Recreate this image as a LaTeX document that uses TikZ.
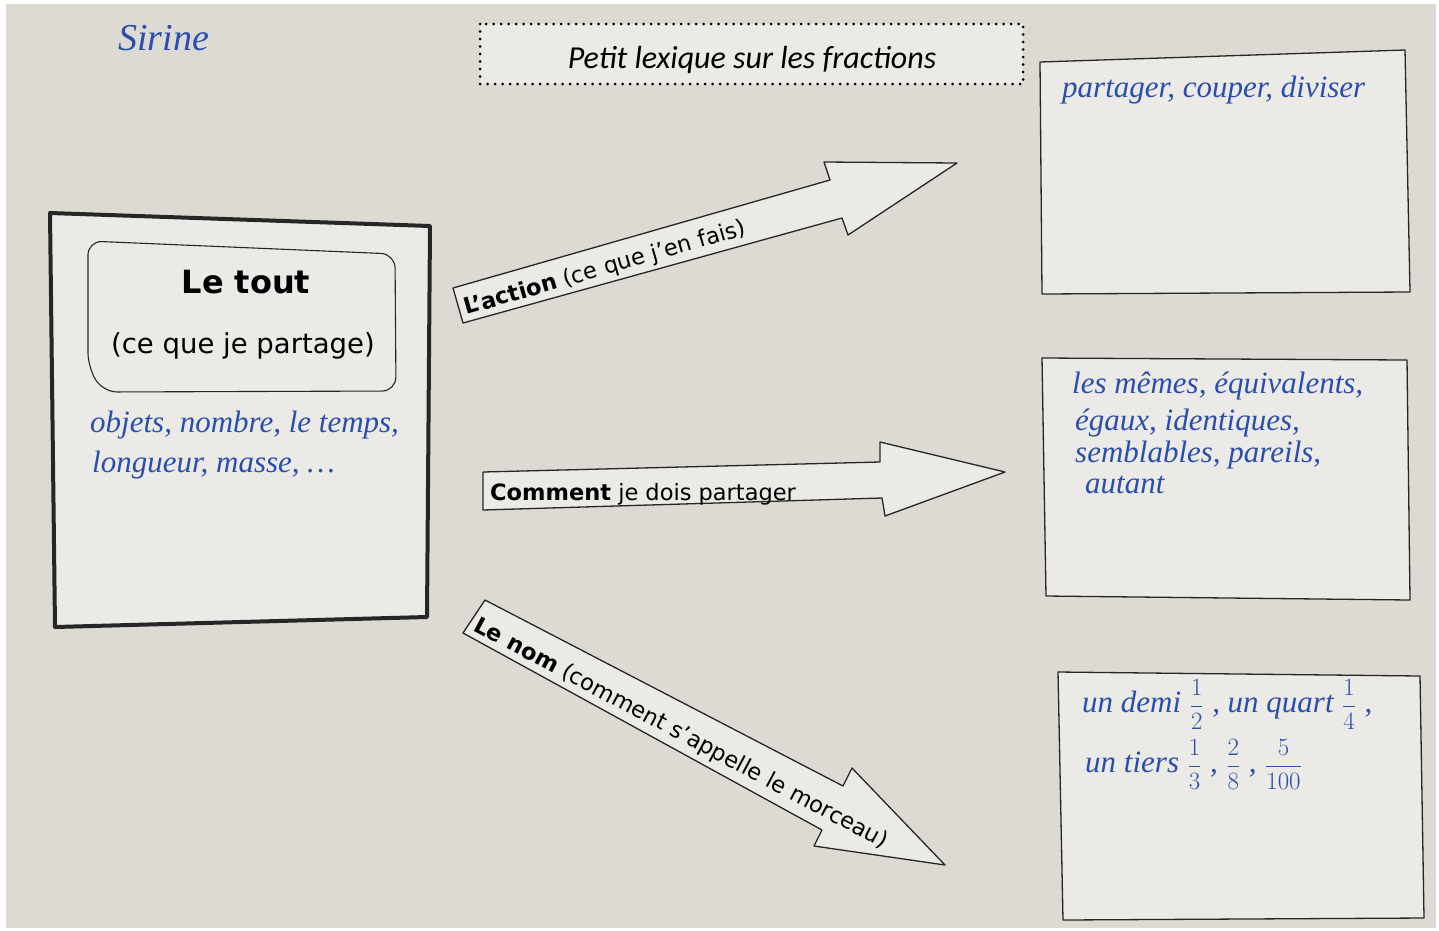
\documentclass[tikz,border=0pt]{standalone}
\usepackage{fontspec}
\setmainfont{DejaVu Sans}
\newfontfamily\titlefont{Carlito}
\newfontfamily\handfont{Liberation Serif}
\definecolor{paper}{RGB}{221,218,211}
\definecolor{cardfill}{RGB}{235,234,230}
\definecolor{ink}{RGB}{42,78,172}
\newcommand{\fr}[2]{$\displaystyle\frac{#1}{#2}$}
\begin{document}
\begin{tikzpicture}[x=1pt,y=-1pt,
  card/.style={draw=black!85,fill=cardfill,line width=1.3pt,line join=round},
  hand/.style={text=ink,font=\handfont\itshape\fontsize{31}{38}\selectfont,anchor=base west,inner sep=0pt},
  lbl/.style={font=\fontsize{22.5}{26}\selectfont,anchor=base west,inner sep=0pt}]
\fill[white] (0,0) rectangle (1439,930);
\fill[paper] (6,4) rectangle (1436,928);
\useasboundingbox (0,0) rectangle (1439,930);
\node[hand,font=\handfont\itshape\fontsize{38}{40}\selectfont] (eleve) at (118,50) {Sirine};
% titre
\draw[line width=3pt,dash pattern=on 0pt off 7.5pt,line cap=round,fill=cardfill] (480,24) rectangle (1023,84);
\node[font=\titlefont\itshape\fontsize{32}{36}\selectfont] (titre) at (752,60) {Petit lexique sur les fractions};
% le tout
\draw[card,line width=4pt] (50,213) -- (430,226) -- (427,617) -- (55,627) -- cycle;
\draw[card,line width=1.1pt,rounded corners=14pt] (88,367) -- (88,241) -- (395,254) -- (396,391) -- (103,392) -- cycle;
\node[font=\bfseries\fontsize{32}{36}\selectfont] (tout) at (246,282) {Le tout};
\node[font=\fontsize{27.5}{30}\selectfont] (partage) at (243,346) {(ce que je partage)};
\node[hand] (objets) at (90,432) {objets, nombre, le temps,};
\node[hand] (longueur) at (92,472) {longueur, masse, \dots};
% les trois fleches
\draw[card] (453,288) -- (830,180) -- (824,162) -- (957,163) -- (848,235) -- (842,218) -- (463,323) -- cycle;
\node[lbl,rotate=16] (action) at (466,315) {\textbf{L'action} (ce que j'en fais)};
\draw[card] (483,472) -- (880,462) -- (880,442) -- (1005,472) -- (885,516) -- (882,498) -- (483,510) -- cycle;
\node[lbl] (comment) at (490,500) {\textbf{Comment} je dois partager};
\draw[card] (485,600) -- (843,786) -- (852,768) -- (945,865) -- (814,846) -- (822,830) -- (463,633) -- cycle;
\node[lbl,rotate=-28] (nommer) at (472,630) {\textbf{Le nom} (comment s'appelle le morceau)};
% les reponses
\draw[card] (1040,62) -- (1405,50) -- (1410,292) -- (1042,294) -- cycle;
\draw[card] (1042,358) -- (1407,360) -- (1410,600) -- (1046,596) -- cycle;
\draw[card] (1058,672) -- (1420,676) -- (1424,918) -- (1063,920) -- cycle;
\node[hand] (verbes) at (1062,97) {partager, couper, diviser};
\node[hand] (egal1) at (1072,393) {les mêmes, équivalents,};
\node[hand] (egal2) at (1075,430) {égaux, identiques,};
\node[hand] (egal3) at (1075,462) {semblables, pareils,};
\node[hand] (egal4) at (1085,493) {autant};
\node[hand] (frac1) at (1082,712) {un demi\;\fr12\;, un quart\;\fr14\;,};
\node[hand] (frac2) at (1085,772) {un tiers\;\fr13\;,\;\fr28\;,\;\fr5{100}};
\end{tikzpicture}
\end{document}
